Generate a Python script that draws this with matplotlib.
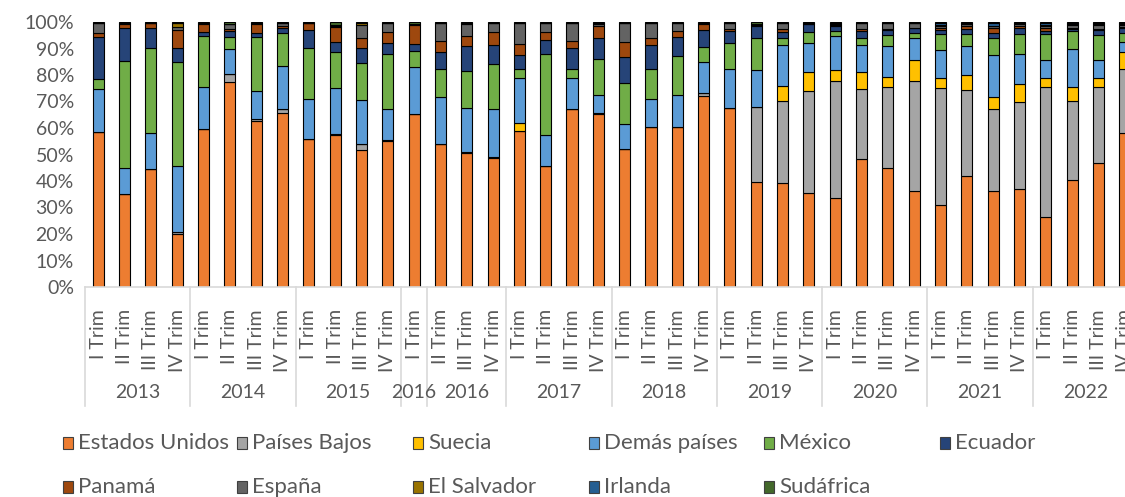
import matplotlib
matplotlib.use("Agg")
import matplotlib.pyplot as plt
import numpy as np
from matplotlib.patches import Rectangle
from matplotlib.transforms import blended_transform_factory

plt.rcParams['font.family'] = ['Lato', 'DejaVu Sans']

# ---------------- data ----------------
quarters = ["I Trim", "II Trim", "III Trim", "IV Trim"] * 3 + ["I Trim"] + \
           ["II Trim", "III Trim", "IV Trim"] + ["I Trim", "II Trim", "III Trim", "IV Trim"] * 6
year_labels = ["2013", "2014", "2015", "2016", "2016", "2017", "2018", "2019", "2020", "2021", "2022"]
year_sizes = [4, 4, 4, 1, 3, 4, 4, 4, 4, 4, 4]

estados_unidos = [58.5, 35.0, 44.8, 20.2, 59.7, 77.8, 62.8, 65.3, 56.1, 57.7, 51.8, 55.2, 65.4, 54.0,
                  50.9, 48.9, 59.0, 45.5, 67.3, 65.7, 52.1, 60.4, 60.4, 72.3, 67.6, 39.8, 39.1, 35.4,
                  33.5, 48.2, 44.8, 36.4, 30.9, 41.7, 36.2, 37.2, 26.3, 40.7, 47.1, 57.4]
paises_bajos = [0, 0, 0, 0.5, 0, 3.0, 0.5, 1.4, 0, 0.3, 2.1, 0.3, 0, 0.3, 0.3, 0.3, 0, 0, 0, 0.3,
                0, 0, 0, 0.9, 0, 28.1, 31.0, 38.8, 43.9, 26.5, 30.7, 41.5, 44.2, 32.5, 31.4, 33.1,
                49.2, 30.0, 29.0, 24.0]
suecia = [0, 0, 0, 0, 0, 0, 0, 0, 0, 0, 0, 0, 0, 0, 0, 0, 2.9, 0, 0, 0, 0, 0, 0, 0, 0, 0, 5.9, 7.2,
          4.0, 6.4, 4.0, 8.2, 4.1, 5.7, 4.4, 6.7, 3.4, 5.1, 3.7, 6.4]
demas_paises = [16.2, 9.8, 13.3, 25.0, 16.1, 9.5, 10.8, 16.4, 15.0, 17.4, 16.8, 12.0, 17.9, 17.7,
                16.7, 18.0, 17.0, 11.9, 11.6, 6.6, 9.5, 10.7, 12.2, 11.8, 14.5, 13.9, 15.2, 11.0,
                12.7, 10.4, 11.7, 8.0, 10.4, 11.0, 16.0, 11.4, 6.6, 14.5, 6.7, 3.7]
mexico = [3.8, 40.4, 32.2, 39.8, 19.1, 4.6, 20.3, 12.2, 19.2, 13.9, 13.9, 20.8, 6.0, 10.6, 14.1,
          17.1, 3.5, 30.6, 3.2, 13.8, 15.4, 11.0, 14.5, 5.9, 10.1, 12.3, 2.9, 4.2, 2.2, 2.6, 4.1,
          1.9, 6.0, 4.4, 6.3, 7.6, 9.8, 6.9, 9.5, 3.4]
ecuador = [15.8, 12.6, 7.8, 5.3, 1.6, 2.3, 1.6, 1.9, 6.9, 3.8, 5.7, 4.2, 2.5, 6.3, 9.6, 7.2, 5.0,
           5.1, 8.2, 7.8, 9.9, 9.1, 7.3, 6.3, 4.4, 4.4, 2.2, 2.8, 1.6, 2.5, 1.9, 1.9, 1.6, 2.2,
           1.9, 2.5, 1.3, 0.8, 1.9, 1.7]
panama = [1.7, 1.3, 1.6, 6.7, 3.0, 0.5, 3.4, 0.7, 2.5, 5.7, 3.8, 4.1, 7.3, 4.2, 3.6, 5.0, 4.4, 3.2,
          2.5, 4.8, 5.5, 2.9, 2.2, 2.3, 0.9, 0.3, 1.2, 0.3, 0.3, 0.9, 0.3, 0.3, 0.6, 1.0, 2.0, 0.4,
          0.9, 0.5, 0.4, 0.6]
espana = [3.7, 0.5, 0.2, 1.2, 0.2, 1.9, 0.3, 1.2, 0.2, 0.3, 4.6, 3.4, 0.2, 6.9, 4.6, 3.2, 7.7, 3.4,
          6.7, 0.8, 7.1, 5.4, 2.9, 0.2, 2.0, 0.5, 2.0, 0.3, 0.5, 2.0, 2.3, 1.8, 0.8, 0.8, 0.5, 0.8,
          1.0, 1.0, 1.6, 0.6]
el_salvador = [0, 0, 0, 1.5, 0, 0, 0, 0, 0, 0.5, 1.0, 0, 0, 0, 0.5, 0, 0, 0, 0, 0.3, 0, 0, 0, 0,
               0, 0, 0, 0, 0, 0, 0, 0, 0.5, 0, 0, 0.6, 0.3, 0.3, 0.3, 0.4]
irlanda = [0, 0, 0, 0, 0, 0, 0, 0, 0, 0, 0, 0, 0, 0, 0, 0, 0, 0, 0, 0, 0, 0, 0, 0, 0, 0, 0, 0,
           0.3, 0, 0, 0, 0.6, 0.4, 1.4, 0, 0.6, 0.3, 0.3, 0.3]
sudafrica = [0.3, 0.4, 0.3, 0.3, 0.5, 0.9, 0.3, 0.4, 0.3, 1.0, 0.3, 0.3, 0.9, 0.3, 0.3, 0.5, 0.5,
             0.3, 0.5, 0.3, 0.5, 0.5, 0.5, 0.5, 0.5, 0.8, 0.5, 0.3, 0.5, 0.5, 0.3, 0.3, 0.5, 0.3,
             0.3, 0.3, 0.5, 0.5, 0.5, 0.5]

series_names = ["Estados Unidos", "Países Bajos", "Suecia", "Demás países", "México", "Ecuador",
                "Panamá", "España", "El Salvador", "Irlanda", "Sudáfrica"]
series_values = [estados_unidos, paises_bajos, suecia, demas_paises, mexico, ecuador,
                 panama, espana, el_salvador, irlanda, sudafrica]
colors = ["#ED7D31", "#A5A5A5", "#FFC000", "#5B9BD5", "#70AD47", "#264478",
          "#9E480E", "#636363", "#997300", "#255E91", "#43682B"]

# ---------------- figure ----------------
W, H = 1125, 497
fig = plt.figure(figsize=(W / 100, H / 100), dpi=100)
ax = fig.add_axes([85 / W, (H - 287) / H, 1053 / W, 265 / H])

data = np.array(series_values, dtype=float)
data = data / data.sum(axis=0) * 100.0
n = data.shape[1]
x = np.arange(n)
bottom = np.zeros(n)
for vals, name, col in zip(data, series_names, colors):
    ax.bar(x, vals, bottom=bottom, width=0.42, color=col, edgecolor="black",
           linewidth=0.8, label=name, zorder=2)
    bottom += vals

ax.set_xlim(-0.5, n - 0.5)
ax.set_ylim(0, 100)
ax.set_yticks(np.arange(0, 101, 10))
ax.set_yticklabels([f"{v}%" for v in range(0, 101, 10)])
ax.tick_params(axis="y", length=0, pad=8, labelsize=14, labelcolor="#595959")
ax.set_xticks(x)
ax.set_xticklabels(quarters, rotation=90, fontsize=14, color="#595959")
ax.tick_params(axis="x", length=0, pad=16)
for s in ["top", "right", "left"]:
    ax.spines[s].set_visible(False)
ax.spines["bottom"].set_color("#D9D9D9")
ax.spines["bottom"].set_linewidth(1.2)

# year group labels and separators
trans = blended_transform_factory(ax.transData, ax.transAxes)
y_bot = (287 - 406) / 265
y_year = (287 - 393) / 265
start = 0
ax.plot([-0.5, -0.5], [0, y_bot], color="#D9D9D9", lw=1.2, transform=trans, clip_on=False)
for lab, size in zip(year_labels, year_sizes):
    end = start + size
    ax.plot([end - 0.5, end - 0.5], [0, y_bot], color="#D9D9D9", lw=1.2,
            transform=trans, clip_on=False)
    ax.text((start + end - 1) / 2, y_year, lab, transform=trans, ha="center", va="center",
            fontsize=14, color="#595959")
    start = end

# legend (manual layout)
col_x = [68, 242, 418, 594, 769, 945]
row_y = [443, 487]
for i, (name, col) in enumerate(zip(series_names, colors)):
    r, c = divmod(i, 6)
    px, py = col_x[c], row_y[r]
    fig.patches.append(Rectangle(((px - 5) / W, (H - py - 6) / H), 10 / W, 12 / H,
                                 transform=fig.transFigure, facecolor=col,
                                 edgecolor="#404040", linewidth=0.8))
    fig.text((px + 10) / W, (H - py) / H, name, ha="left", va="center",
             fontsize=16, color="#595959")

fig.savefig("out.png", dpi=100)
